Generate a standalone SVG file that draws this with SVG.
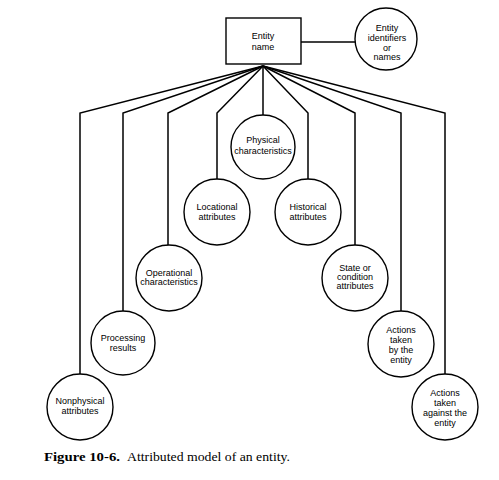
<svg xmlns="http://www.w3.org/2000/svg" width="499" height="480" viewBox="0 0 499 480">
<style>
.n{fill:#fff;stroke:#000;stroke-width:1.4}
.c{fill:none;stroke:#000;stroke-width:1.5;stroke-linejoin:miter}
.t{font-family:"Liberation Sans",Arial,sans-serif;font-size:9px;text-anchor:middle;fill:#000}
.cap{font-family:"Liberation Serif","Times New Roman",serif;font-size:12px;fill:#000}
</style>
<rect width="499" height="480" fill="#fff"/>
<g id="connectors">
<line class="c" x1="301" y1="42" x2="355" y2="42"/>
<polyline class="c" points="263,66 80,113 80,374"/>
<polyline class="c" points="263,66 123,113 123,311"/>
<polyline class="c" points="263,66 168,113 168,245"/>
<polyline class="c" points="263,66 217,113 217,179"/>
<polyline class="c" points="263,66 263,115"/>
<polyline class="c" points="263,66 308,113 308,179"/>
<polyline class="c" points="263,66 355,113 355,245"/>
<polyline class="c" points="263,66 401,113 401,311"/>
<polyline class="c" points="263,66 445,113 445,374"/>
</g>
<g id="entity-name">
<rect class="n" x="226" y="18" width="75" height="46"/>
<text class="t" x="263" y="39">Entity</text>
<text class="t" x="263" y="50">name</text>
</g>
<g id="entity-identifiers">
<circle class="n" cx="386" cy="39" r="31"/>
<text class="t" x="387" y="31">Entity</text>
<text class="t" x="387" y="41">identifiers</text>
<text class="t" x="387" y="51">or</text>
<text class="t" x="387" y="60">names</text>
</g>
<g id="physical">
<circle class="n" cx="263" cy="147" r="32"/>
<text class="t" x="263" y="143">Physical</text>
<text class="t" x="263" y="154">characteristics</text>
</g>
<g id="locational">
<circle class="n" cx="217" cy="212" r="33"/>
<text class="t" x="217" y="210">Locational</text>
<text class="t" x="217" y="220">attributes</text>
</g>
<g id="historical">
<circle class="n" cx="308" cy="212" r="33"/>
<text class="t" x="308" y="210">Historical</text>
<text class="t" x="308" y="220">attributes</text>
</g>
<g id="operational">
<circle class="n" cx="169" cy="278" r="33"/>
<text class="t" x="169" y="276">Operational</text>
<text class="t" x="169" y="285">characteristics</text>
</g>
<g id="state">
<circle class="n" cx="355" cy="278" r="33"/>
<text class="t" x="355" y="271">State or</text>
<text class="t" x="355" y="280">condition</text>
<text class="t" x="355" y="289">attributes</text>
</g>
<g id="processing">
<circle class="n" cx="123" cy="343" r="32"/>
<text class="t" x="123" y="341">Processing</text>
<text class="t" x="123" y="351">results</text>
</g>
<g id="actions-by">
<circle class="n" cx="401" cy="344" r="33"/>
<text class="t" x="401" y="333">Actions</text>
<text class="t" x="401" y="343">taken</text>
<text class="t" x="401" y="353">by the</text>
<text class="t" x="401" y="363">entity</text>
</g>
<g id="nonphysical">
<circle class="n" cx="80" cy="407" r="33"/>
<text class="t" x="80" y="404">Nonphysical</text>
<text class="t" x="80" y="414">attributes</text>
</g>
<g id="actions-against">
<circle class="n" cx="445" cy="407" r="33"/>
<text class="t" x="445" y="396">Actions</text>
<text class="t" x="445" y="406">taken</text>
<text class="t" x="445" y="416">against the</text>
<text class="t" x="445" y="426">entity</text>
</g>
<text class="cap" x="44" y="461" font-weight="bold" textLength="76" lengthAdjust="spacingAndGlyphs">Figure 10-6.</text>
<text class="cap" x="127" y="461" textLength="163" lengthAdjust="spacingAndGlyphs">Attributed model of an entity.</text>
</svg>
